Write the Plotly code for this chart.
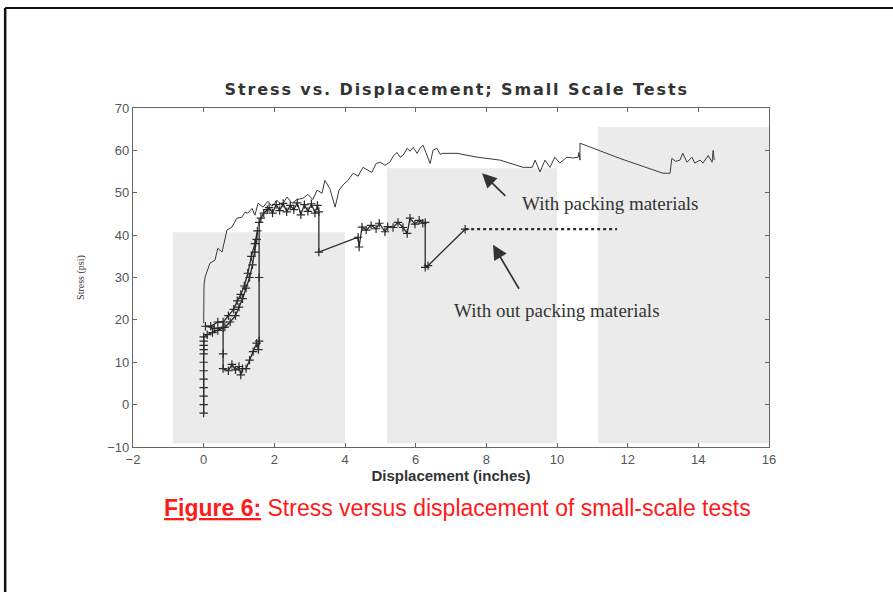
import plotly.graph_objects as go

# ---------------- data ----------------
pack_x = [0.0, 0.01, 0.04, 0.18, 0.32, 0.40, 0.52, 0.66, 0.80, 0.94, 1.08, 1.17, 1.25, 1.37, 1.45,
          1.54, 1.68, 1.82, 1.93, 2.07, 2.22, 2.36, 2.50, 2.64, 2.81, 2.95, 3.09, 3.21, 3.35, 3.43,
          3.57, 3.72, 3.83, 3.94, 4.08, 4.23, 4.37, 4.51, 4.65, 4.76, 4.88, 5.00, 5.13, 5.27, 5.36,
          5.47, 5.56, 5.64, 5.76, 5.84, 5.93, 6.04, 6.12, 6.21, 6.29, 6.41, 6.49, 6.60, 6.69, 6.77,
          7.17, 7.74, 8.39, 9.04, 9.30, 9.38, 9.52, 9.66, 9.80, 9.94, 10.08, 10.28, 10.45, 10.60,
          10.62, 10.65, 10.65, 11.78, 13.00, 13.20, 13.25, 13.36, 13.48, 13.56, 13.68, 13.82, 13.90,
          14.05, 14.13, 14.28, 14.39, 14.42, 14.45]
pack_y = [19.2, 28.2, 30.1, 33.4, 34.1, 36.9, 36.0, 41.2, 41.9, 44.0, 44.2, 45.4, 45.2, 46.3, 44.7,
          47.5, 46.6, 48.0, 46.8, 48.2, 47.1, 49.0, 47.5, 48.4, 48.7, 49.6, 48.4, 50.6, 49.9, 52.9,
          51.0, 46.6, 50.6, 51.8, 52.9, 54.6, 53.9, 56.0, 55.3, 54.8, 56.9, 57.2, 56.5, 57.2, 58.6,
          59.5, 58.4, 58.8, 60.5, 59.8, 60.7, 59.3, 60.5, 61.2, 59.5, 56.9, 60.0, 60.5, 59.1, 59.3,
          59.3, 58.4, 57.7, 56.0, 56.0, 57.7, 54.9, 57.7, 56.0, 58.4, 57.0, 58.4, 58.2, 58.4,
          59.5, 57.7, 61.7, 58.1, 54.6, 54.6, 58.1, 57.4, 57.7, 59.3, 57.2, 58.4, 57.0,
          57.7, 57.0, 58.8, 57.2, 60.0, 57.7]

nopack_x = [0, 0, 0, 0, 0, 0, 0, 0, 0, 0, 0, 0,
            0.1, 0.25, 0.4, 0.6, 0.75, 0.9, 1.0, 1.1, 1.2, 1.3, 1.38, 1.45, 1.5, 1.52,
            1.45, 1.35, 1.25, 1.15, 1.05, 0.95, 0.85, 0.7, 0.55, 0.4, 0.2, 0.05,
            0.3, 0.55, 0.55, 0.55, 0.7, 0.8, 0.9, 1.0, 1.05, 1.1, 1.2, 1.3, 1.4, 1.5, 1.55,
            1.57, 1.57, 1.57, 1.62, 1.7, 1.8,
            1.85, 1.95, 2.05, 2.15, 2.25, 2.35, 2.45, 2.55, 2.65, 2.75, 2.85, 2.95, 3.05, 3.15,
            3.22, 3.26, 3.26, 4.37, 4.40, 4.48, 4.60, 4.74, 4.88, 4.97, 5.13, 5.21, 5.36, 5.50,
            5.64, 5.76, 5.84, 5.98, 6.10, 6.20, 6.27, 6.27, 6.35, 7.40]
nopack_y = [-2, 0, 2, 4, 6, 8, 10, 12, 13, 14, 15, 16,
            16.5, 17.0, 17.5, 18.3, 19.5, 21.0, 23.0, 25.0, 27.5, 30.0, 33.0, 36.0, 39.0, 41.0,
            38.0, 35.0, 31.0, 28.0, 26.0, 24.5, 22.5, 21.0, 19.5, 19.5, 18.5, 18.5,
            18.0, 18.2, 12.0, 8.5, 8.0, 9.5, 8.2, 9.0, 7.0, 8.5, 8.5, 10.5, 12.5, 14.5, 13.0,
            15.0, 30.0, 43.0, 44.0, 45.2, 46.0,
            46.5, 45.2, 47.2, 45.8, 47.5, 45.5, 47.0, 46.0, 47.6, 44.8, 47.2, 45.6, 47.4, 45.2,
            47.0, 45.5, 36.0, 39.5, 37.2, 41.9, 41.2, 42.3, 41.5, 42.8, 40.8, 42.0, 41.8, 43.0,
            41.8, 40.4, 44.0, 42.6, 43.5, 42.8, 43.0, 32.4, 32.8, 41.4]
flat_x = [7.40, 11.70]
flat_y = [41.4, 41.4]

# scanned grey patches behind the plot (x0, x1, y_top)
patch_x0 = [-0.87, 5.19, 11.16]
patch_x1 = [4.00, 10.00, 16.00]
patch_top = [40.7, 55.8, 65.5]

labels = ["With packing materials", "With out packing materials"]

fig = go.Figure()

for x0, x1, yt in zip(patch_x0, patch_x1, patch_top):
    fig.add_shape(type="rect", xref="x", yref="y", x0=x0, x1=x1, y0=-9.1, y1=yt,
                  fillcolor="#ebebeb", line=dict(width=0), layer="below")

fig.add_trace(go.Scatter(x=pack_x, y=pack_y, mode="lines",
                         line=dict(color="#3a3a3a", width=1), name=labels[0]))
fig.add_trace(go.Scatter(x=nopack_x, y=nopack_y, mode="lines+markers",
                         line=dict(color="#2a2a2a", width=1.3),
                         marker=dict(symbol="cross-thin", size=6,
                                     line=dict(width=1.2, color="#2a2a2a")),
                         name=labels[1]))
fig.add_trace(go.Scatter(x=flat_x, y=flat_y, mode="lines",
                         line=dict(color="#2a2a2a", width=2.2, dash="dot"),
                         showlegend=False))

# arrows and labels
fig.add_annotation(x=7.88, y=54.6, ax=8.58, ay=48.9, xref="x", yref="y", axref="x", ayref="y",
                   showarrow=True, arrowhead=2, arrowsize=1.7, arrowwidth=1.7, arrowcolor="#333",
                   text="")
fig.add_annotation(x=8.19, y=37.7, ax=8.95, ay=27.0, xref="x", yref="y", axref="x", ayref="y",
                   showarrow=True, arrowhead=2, arrowsize=1.7, arrowwidth=1.7, arrowcolor="#333",
                   text="")
fig.add_annotation(x=8.95, y=47.5, xref="x", yref="y", text=labels[0], showarrow=False,
                   xanchor="left", font=dict(family="Liberation Serif", size=19, color="#333"))
fig.add_annotation(x=7.03, y=22.1, xref="x", yref="y", text=labels[1], showarrow=False,
                   xanchor="left", font=dict(family="Liberation Serif", size=19, color="#333"))

# caption
fig.add_annotation(x=0.511, y=-0.18, xref="paper", yref="paper", showarrow=False,
                   yanchor="middle",
                   text="<b><u>Figure 6:</u></b> Stress versus displacement of small-scale tests",
                   font=dict(family="Liberation Sans", size=23, color="#ff1a1a"))

# outer frame of the scanned page (left and top edges)
fig.add_shape(type="line", xref="paper", yref="paper", x0=-0.201, x1=-0.201, y0=-0.45, y1=1.295,
              line=dict(color="#111", width=2.5))
fig.add_shape(type="line", xref="paper", yref="paper", x0=-0.201, x1=1.2, y0=1.295, y1=1.295,
              line=dict(color="#111", width=2))

fig.update_layout(
    width=893, height=592,
    margin=dict(l=133, r=124, t=108, b=145),
    paper_bgcolor="white", plot_bgcolor="white",
    showlegend=False,
    title=dict(text="<b>Stress vs. Displacement; Small Scale Tests</b>",
               x=0.509, xanchor="center", xref="paper", y=1.0, yref="container",
               yanchor="top", pad=dict(t=84),
               font=dict(family="DejaVu Sans", size=16, color="#333")),
    font=dict(family="Liberation Sans", color="#444"),
)
fig.update_xaxes(range=[-2, 16], dtick=2, showline=True, linecolor="#666", linewidth=1.2,
                 mirror="ticks", ticks="inside", ticklen=4, tickcolor="#666",
                 showgrid=False, zeroline=False, tickfont=dict(size=13, color="#555"),
                 title=dict(text="<b>Displacement (inches)</b>", standoff=2,
                            font=dict(family="Liberation Sans", size=15, color="#333")))
fig.update_yaxes(range=[-10, 70], dtick=10, showline=True, linecolor="#666", linewidth=1.2,
                 mirror="ticks", ticks="inside", ticklen=4, tickcolor="#666",
                 showgrid=False, zeroline=False, tickfont=dict(size=13, color="#555"),
                 title=dict(text="Stress (psi)", standoff=20,
                            font=dict(family="Liberation Serif", size=10, color="#333")))

post = ("document.body.style.margin='0';document.body.style.overflow='hidden';"
        "document.querySelectorAll('.gtitle').forEach(function(e){"
        "e.style.letterSpacing='1.9px';});")
fig.write_html("out.html", post_script=post, config={"displayModeBar": False})
